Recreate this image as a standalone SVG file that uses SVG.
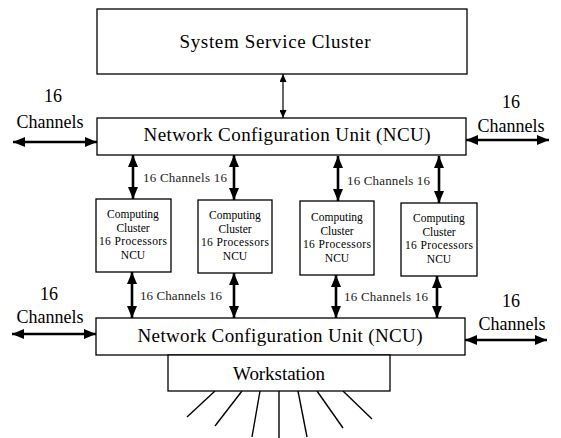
<svg xmlns="http://www.w3.org/2000/svg" width="561" height="438" viewBox="0 0 561 438">
  <defs>
    <!-- heavy arrowhead for channel links -->
    <marker id="headBig" markerUnits="userSpaceOnUse" markerWidth="13" markerHeight="10" refX="12" refY="5" orient="auto-start-reverse">
      <path d="M0,0 L12,5 L0,10 z" fill="#000"/>
    </marker>
    <!-- light arrowhead for the service link -->
    <marker id="headSmall" markerUnits="userSpaceOnUse" markerWidth="9" markerHeight="7" refX="8" refY="3.5" orient="auto-start-reverse">
      <path d="M0,0 L8,3.5 L0,7 z" fill="#000"/>
    </marker>
  </defs>
  <style>
    .box { fill: #fff; stroke: #000; stroke-width: 1.3; }
    .big { font-family: "Liberation Serif", "Times New Roman", serif; font-size: 19px; fill: #000; text-anchor: middle; }
    .lbl { font-family: "Liberation Serif", "Times New Roman", serif; font-size: 18px; fill: #000; text-anchor: middle; }
    .cc { font-family: "Liberation Serif", "Times New Roman", serif; font-size: 11.5px; fill: #000; text-anchor: middle; }
    .ch { font-family: "Liberation Serif", "Times New Roman", serif; font-size: 13px; fill: #222; }
    .thick { stroke: #000; stroke-width: 2.6; fill: none; marker-start: url(#headBig); marker-end: url(#headBig); }
    .thin { stroke: #000; stroke-width: 1.2; fill: none; marker-start: url(#headSmall); marker-end: url(#headSmall); }
    .ray { stroke: #000; stroke-width: 1.4; fill: none; }
  </style>

  <g id="connectors">
    <line class="thin" x1="283" y1="74" x2="283" y2="118"/>
    <!-- external channels -->
    <line class="thick" x1="13" y1="142" x2="97" y2="142"/>
    <line class="thick" x1="466" y1="140" x2="549" y2="140"/>
    <line class="thick" x1="12" y1="334" x2="96" y2="334"/>
    <line class="thick" x1="465" y1="340" x2="547" y2="340"/>
    <!-- upper NCU to clusters -->
    <line class="thick" x1="133" y1="155" x2="133" y2="199"/>
    <line class="thick" x1="234" y1="155" x2="234" y2="200"/>
    <line class="thick" x1="338" y1="156" x2="338" y2="201"/>
    <line class="thick" x1="439" y1="156" x2="439" y2="203"/>
    <!-- clusters to lower NCU -->
    <line class="thick" x1="132" y1="272" x2="132" y2="318"/>
    <line class="thick" x1="234" y1="273" x2="234" y2="318"/>
    <line class="thick" x1="336" y1="275" x2="336" y2="318"/>
    <line class="thick" x1="437" y1="276" x2="437" y2="318"/>
    <!-- workstation fan-out -->
    <line class="ray" x1="215" y1="391" x2="187" y2="417"/>
    <line class="ray" x1="242" y1="391" x2="215" y2="426"/>
    <line class="ray" x1="260" y1="391" x2="252" y2="437"/>
    <line class="ray" x1="279" y1="391" x2="279" y2="438"/>
    <line class="ray" x1="298" y1="391" x2="307" y2="437"/>
    <line class="ray" x1="317" y1="391" x2="343" y2="428"/>
    <line class="ray" x1="343" y1="391" x2="372" y2="419"/>
  </g>

  <g id="labels">
    <text class="lbl" x="53" y="102">16</text>
    <text class="lbl" x="50" y="128">Channels</text>
    <text class="lbl" x="511" y="108">16</text>
    <text class="lbl" x="511" y="132">Channels</text>
    <text class="lbl" x="49" y="300">16</text>
    <text class="lbl" x="50" y="323">Channels</text>
    <text class="lbl" x="511" y="307">16</text>
    <text class="lbl" x="512" y="330">Channels</text>
    <text class="ch" x="143" y="182" textLength="84" lengthAdjust="spacing">16 Channels 16</text>
    <text class="ch" x="347" y="185" textLength="83" lengthAdjust="spacing">16 Channels 16</text>
    <text class="ch" x="140" y="300" textLength="82" lengthAdjust="spacing">16 Channels 16</text>
    <text class="ch" x="344" y="301" textLength="84" lengthAdjust="spacing">16 Channels 16</text>
  </g>

  <g id="ssc">
    <rect class="box" x="97" y="9" width="370" height="65"/>
    <text class="big" x="275" y="48" font-size="20" textLength="191" lengthAdjust="spacing">System Service Cluster</text>
  </g>

  <g id="ncu-top">
    <rect class="box" x="97" y="118" width="369" height="37"/>
    <text class="big" x="287" y="141" textLength="287" lengthAdjust="spacing">Network Configuration Unit (NCU)</text>
  </g>

  <g id="cluster-1">
    <rect class="box" x="96" y="199" width="75" height="73"/>
    <text class="cc" x="133" y="218">Computing</text>
    <text class="cc" x="133" y="231.5">Cluster</text>
    <text class="cc" x="133" y="245" textLength="68" lengthAdjust="spacing">16 Processors</text>
    <text class="cc" x="133" y="258.5">NCU</text>
  </g>

  <g id="cluster-2">
    <rect class="box" x="198" y="200" width="74" height="73"/>
    <text class="cc" x="235" y="219">Computing</text>
    <text class="cc" x="235" y="232.5">Cluster</text>
    <text class="cc" x="235" y="246" textLength="68" lengthAdjust="spacing">16 Processors</text>
    <text class="cc" x="235" y="259.5">NCU</text>
  </g>

  <g id="cluster-3">
    <rect class="box" x="300" y="201" width="74" height="74"/>
    <text class="cc" x="337" y="221">Computing</text>
    <text class="cc" x="337" y="234.5">Cluster</text>
    <text class="cc" x="337" y="248" textLength="68" lengthAdjust="spacing">16 Processors</text>
    <text class="cc" x="337" y="261.5">NCU</text>
  </g>

  <g id="cluster-4">
    <rect class="box" x="401" y="203" width="76" height="73"/>
    <text class="cc" x="439" y="222">Computing</text>
    <text class="cc" x="439" y="235.5">Cluster</text>
    <text class="cc" x="439" y="249" textLength="68" lengthAdjust="spacing">16 Processors</text>
    <text class="cc" x="439" y="262.5">NCU</text>
  </g>

  <g id="ncu-bottom">
    <rect class="box" x="96" y="318" width="369" height="37"/>
    <text class="big" x="280" y="342" textLength="285" lengthAdjust="spacing">Network Configuration Unit (NCU)</text>
  </g>

  <g id="workstation">
    <rect class="box" x="168" y="355" width="222" height="36"/>
    <text class="big" x="279" y="380" textLength="92" lengthAdjust="spacing">Workstation</text>
  </g>
</svg>
